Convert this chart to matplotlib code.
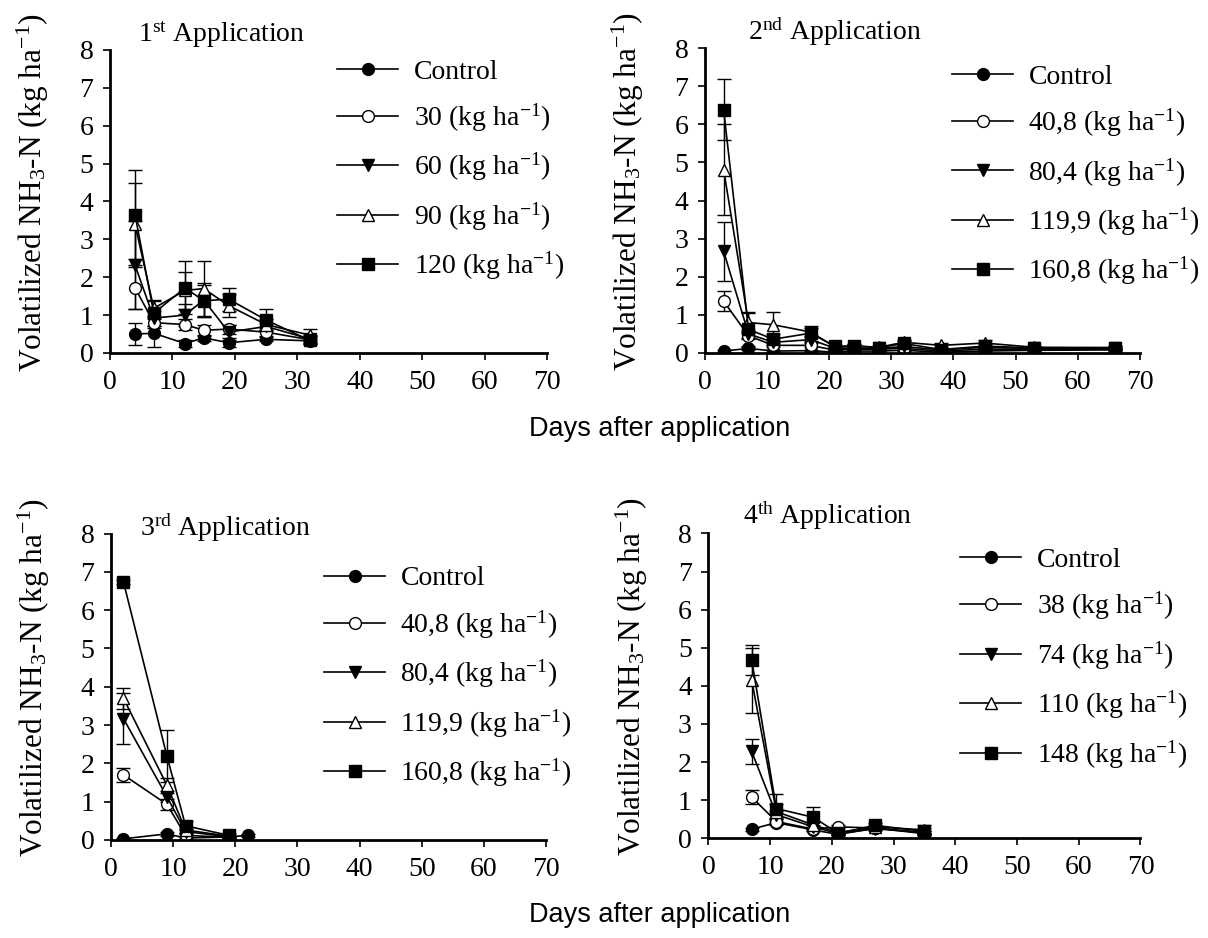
import numpy as np
import matplotlib
matplotlib.use("Agg")
import matplotlib.pyplot as plt

plt.rcParams['font.family'] = ['Liberation Serif', 'DejaVu Serif']
plt.rcParams['mathtext.fontset'] = 'custom'
plt.rcParams['mathtext.rm'] = 'Liberation Serif'
plt.rcParams['mathtext.it'] = 'Liberation Serif:italic'
plt.rcParams['mathtext.bf'] = 'Liberation Serif:bold'

nan = np.nan

# 1st application
days1 = [4, 7, 12, 15, 19, 25, 32]
labels1 = ["Control", "30", "60", "90", "120"]
vals1 = [
    [0.50, 0.52, 0.25, 0.40, 0.27, 0.36, 0.32],
    [1.72, 0.80, 0.75, 0.60, 0.63, 0.55, 0.35],
    [2.32, 0.92, 1.00, 1.40, 0.55, 0.70, 0.37],
    [3.40, 1.18, 1.65, 1.70, 1.25, 0.75, 0.47],
    [3.65, 1.05, 1.72, 1.38, 1.42, 0.87, 0.33],
]
errs1 = [
    [0.30, 0.37, 0.10, 0.08, 0.12, 0.05, 0.05],
    [0.55, 0.15, 0.15, 0.15, 0.12, 0.10, 0.10],
    [1.17, 0.20, 0.30, 0.45, 0.20, 0.10, 0.10],
    [1.08, 0.20, 0.50, 0.72, 0.30, 0.15, 0.15],
    [1.17, 0.35, 0.70, 0.42, 0.30, 0.30, 0.10],
]

# 2nd application
days2 = [3, 7, 11, 17, 21, 24, 28, 32, 38, 45, 53, 66]
labels2 = ["Control", "40,8", "80,4", "119,9", "160,8"]
vals2 = [
    [0.05, 0.12, 0.05, 0.06, 0.02, 0.05, 0.05, 0.07, 0.02, 0.05, 0.07, 0.08],
    [1.36, 0.45, 0.20, 0.20, 0.07, 0.10, 0.10, 0.12, 0.05, 0.10, 0.10, 0.10],
    [2.67, 0.50, 0.28, 0.35, 0.12, 0.13, 0.12, 0.17, 0.08, 0.15, 0.12, 0.12],
    [4.81, 0.80, 0.74, 0.55, 0.15, 0.18, 0.15, 0.28, 0.20, 0.26, 0.15, 0.14],
    [6.38, 0.62, 0.36, 0.52, 0.17, 0.19, 0.14, 0.25, 0.09, 0.18, 0.13, 0.14],
]
errs2 = [
    [0.02, 0.03, 0.02, 0.02, 0.01, 0.02, 0.02, 0.02, 0.01, 0.02, 0.02, 0.02],
    [0.27, 0.08, 0.05, 0.05, 0.02, 0.03, 0.03, 0.03, 0.02, 0.03, 0.03, 0.03],
    [0.78, 0.10, 0.06, 0.06, 0.03, 0.03, 0.03, 0.04, 0.02, 0.04, 0.03, 0.03],
    [1.20, 0.25, 0.33, 0.10, 0.04, 0.05, 0.04, 0.06, 0.05, 0.07, 0.04, 0.04],
    [0.80, 0.45, 0.15, 0.20, 0.05, 0.05, 0.04, 0.06, 0.03, 0.05, 0.04, 0.04],
]

# 3rd application
days3 = [2, 9, 12, 19, 22]
labels3 = ["Control", "40,8", "80,4", "119,9", "160,8"]
vals3 = [
    [0.03, 0.16, 0.05, 0.08, 0.12],
    [1.70, 0.93, 0.12, 0.07, nan],
    [3.17, 1.13, 0.22, 0.08, nan],
    [3.70, 1.43, 0.26, 0.10, nan],
    [6.74, 2.19, 0.37, 0.12, nan],
]
errs3 = [
    [0.02, 0.05, 0.02, 0.02, 0.03],
    [0.18, 0.15, 0.05, 0.03, nan],
    [0.67, 0.15, 0.06, 0.03, nan],
    [0.27, 0.20, 0.08, 0.03, nan],
    [0.05, 0.67, 0.12, 0.05, nan],
]

# 4th application
days4 = [7, 11, 17, 21, 27, 35]
labels4 = ["Control", "38", "74", "110", "148"]
vals4 = [
    [0.24, 0.41, 0.22, 0.10, 0.27, 0.12],
    [1.08, 0.44, 0.24, 0.30, 0.27, 0.15],
    [2.28, 0.62, 0.30, 0.12, 0.25, 0.15],
    [4.15, 0.70, 0.35, 0.15, 0.30, 0.22],
    [4.68, 0.78, 0.55, 0.13, 0.34, 0.18],
]
errs4 = [
    [0.04, 0.05, 0.03, 0.02, 0.03, 0.03],
    [0.18, 0.06, 0.04, 0.04, 0.04, 0.04],
    [0.32, 0.10, 0.05, 0.03, 0.04, 0.04],
    [0.85, 0.20, 0.08, 0.04, 0.05, 0.12],
    [0.40, 0.38, 0.27, 0.05, 0.05, 0.10],
]

markers = ['o', 'o', 'v', '^', 's']
faces = ['black', 'white', 'black', 'white', 'black']

fig = plt.figure(figsize=(12.08, 9.38), dpi=100)

panels = [
    # rect, title number/suffix, title pos, legend anchor, data
    ([0.0911, 0.6237, 0.3618, 0.3230], "1", "st", (0.064, 1.0), (0.52, 0.97), days1, labels1, vals1, errs1),
    ([0.5836, 0.6237, 0.3600, 0.3250], "2", "nd", (0.099, 1.0), (0.568, 0.947), days2, labels2, vals2, errs2),
    ([0.0919, 0.1045, 0.3600, 0.3267], "3", "rd", (0.067, 0.965), (0.49, 0.894), days3, labels3, vals3, errs3),
    ([0.5865, 0.1063, 0.3576, 0.3250], "4", "th", (0.079, 1.005), (0.583, 0.954), days4, labels4, vals4, errs4),
]

for rect, num, suf, tpos, lpos, days, labels, vals, errs in panels:
    ax = fig.add_axes(rect)
    handles = []
    labs = []
    for i in range(5):
        lab = labels[i] if i == 0 else labels[i] + r" (kg ha$^{\mathbf{-}1}$)"
        eb = ax.errorbar(days, vals[i], yerr=errs[i], color='black', lw=1.2,
                         marker=markers[i], ms=8.5, mfc=faces[i], mec='black', mew=1.0,
                         ecolor='black', elinewidth=1.0, capsize=5, capthick=1.2)
        handles.append(eb[0])
        labs.append(lab)
    ax.set_xlim(0, 70)
    ax.set_ylim(0, 8)
    ax.set_xticks(range(0, 71, 10))
    ax.set_yticks(range(0, 9))
    ax.spines['top'].set_visible(False)
    ax.spines['right'].set_visible(False)
    ax.spines['left'].set_linewidth(2)
    ax.spines['bottom'].set_linewidth(2)
    ax.tick_params(direction='out', length=5, width=1.2, labelsize=20, pad=7)
    ax.set_ylabel(r"Volatilized NH$_3$-N (kg ha$^{-1}$)", fontsize=22.5)
    ax.yaxis.set_label_coords(-0.135, 0.53)
    ax.text(tpos[0], tpos[1], num + r"$^{\mathrm{" + suf + "}}$ Application",
            transform=ax.transAxes, fontsize=20, ha='left', va='bottom')
    ax.legend(handles, labs, loc='upper left', bbox_to_anchor=lpos, frameon=False,
              fontsize=20, handlelength=2.2, handletextpad=0.55, labelspacing=0.61,
              borderaxespad=0, borderpad=0)

fig.text(0.546, 0.543, "Days after application", family='Liberation Sans',
         fontsize=19.5, ha='center', va='center')
fig.text(0.546, 0.024, "Days after application", family='Liberation Sans',
         fontsize=19.5, ha='center', va='center')

plt.savefig("out.png", dpi=100)
